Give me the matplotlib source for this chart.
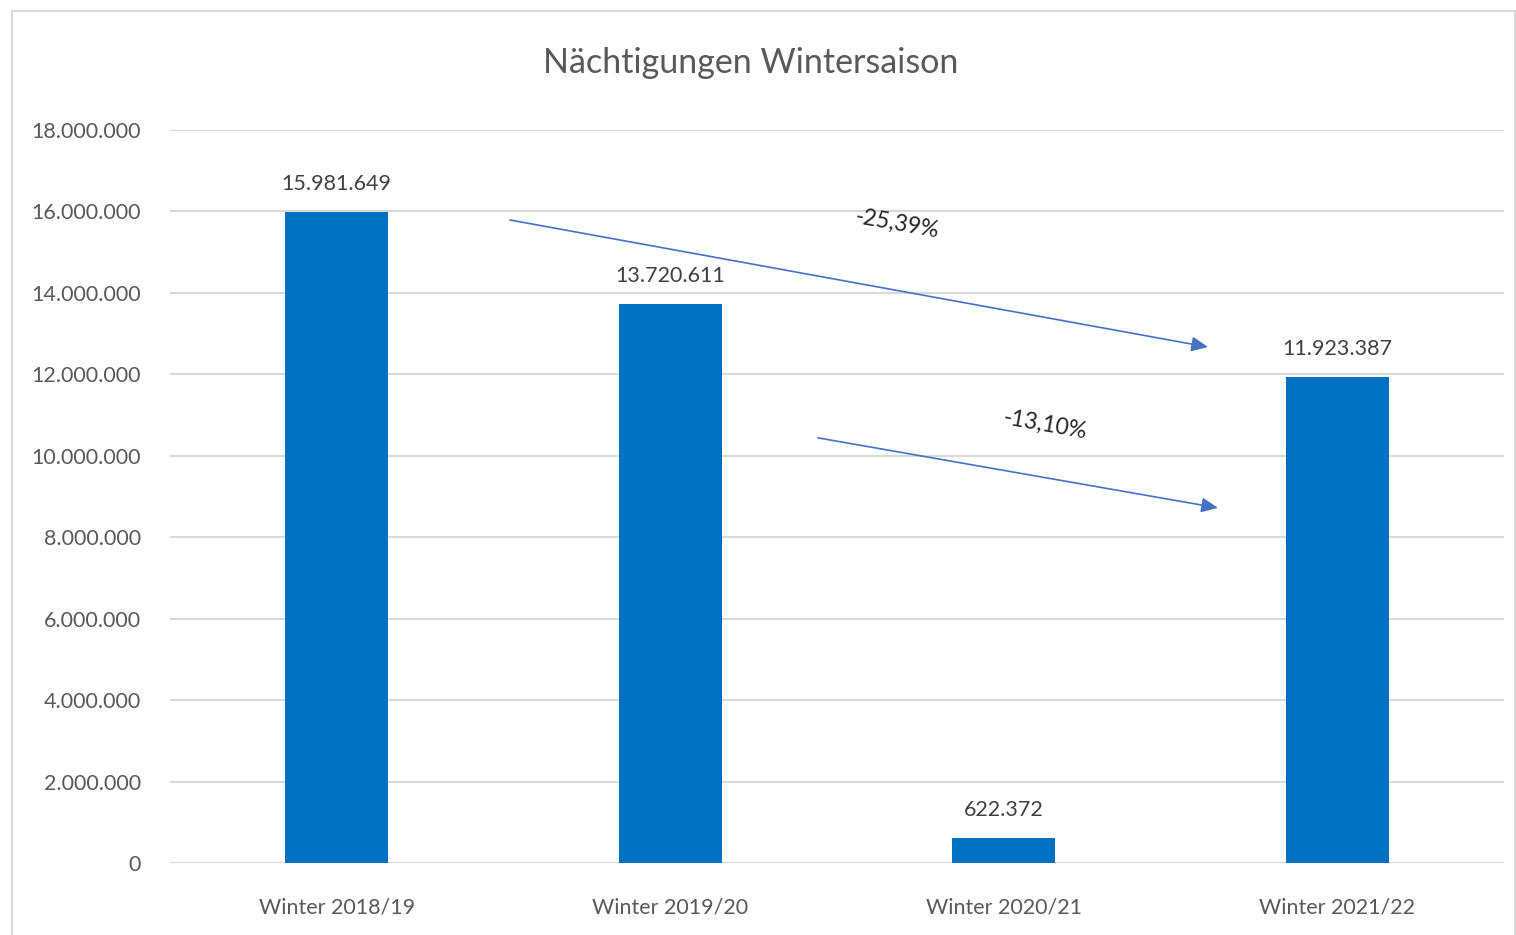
import matplotlib
matplotlib.use("Agg")
import matplotlib.pyplot as plt
from matplotlib.patches import Rectangle

categories = ["Winter 2018/19", "Winter 2019/20", "Winter 2020/21", "Winter 2021/22"]
values = [15981649, 13720611, 622372, 11923387]
yticks = [0, 2000000, 4000000, 6000000, 8000000, 10000000, 12000000, 14000000, 16000000, 18000000]
changes = ["-25,39%", "-13,10%"]

def de(n):
    return f"{n:,}".replace(",", ".")

plt.rcParams['font.family'] = ['Lato', 'DejaVu Sans']

W, H = 1516, 935
fig = plt.figure(figsize=(W / 100, H / 100), dpi=100)
fig.patch.set_facecolor("white")

# outer border
fig.add_artist(Rectangle((12 / W, -0.1), (W - 13) / W, 1.1 - 11 / H, transform=fig.transFigure,
                         fill=False, edgecolor="#d9d9d9", linewidth=1.5))

ax = fig.add_axes([170 / W, 1 - 863 / H, (1504 - 170) / W, (863 - 130) / H])
x = range(len(categories))
ax.bar(x, values, width=0.31, color="#0070C0", zorder=3)
ax.set_xlim(-0.5, 3.5)
ax.set_ylim(0, 18000000)
ax.set_yticks(yticks)
ax.set_yticklabels([de(v) for v in yticks])
ax.set_xticks(list(x))
ax.set_xticklabels(categories)
ax.yaxis.grid(True, color="#d9d9d9", linewidth=1.5, zorder=0)
ax.xaxis.grid(False)
for s in ax.spines.values():
    s.set_visible(False)
ax.tick_params(axis="both", length=0, labelsize=15.5, colors="#595959")
ax.tick_params(axis="y", pad=21)
ax.tick_params(axis="x", pad=25)

for i, v in enumerate(values):
    ax.annotate(de(v), (i, v), xytext=(0, 13), textcoords="offset points",
                ha="center", va="bottom", fontsize=15.5, color="#404040")

# arrows
ax.annotate("", xy=(2.6125, 12.67e6), xytext=(0.5195, 15.79e6),
            arrowprops=dict(arrowstyle="-|>,head_length=1.0,head_width=0.45", color="#4472C4", lw=1.2,
                            shrinkA=0, shrinkB=0), zorder=4)
ax.annotate("", xy=(2.6424, 8.72e6), xytext=(1.443, 10.44e6),
            arrowprops=dict(arrowstyle="-|>,head_length=1.0,head_width=0.45", color="#4472C4", lw=1.2,
                            shrinkA=0, shrinkB=0), zorder=4)

ax.text((897 - 170) / 333.5 - 0.5, (863 - 224) / 733 * 18e6, changes[0], rotation=-10,
        ha="center", va="center", fontsize=16.5, color="#262626", rotation_mode="anchor")
ax.text((1045 - 170) / 333.5 - 0.5, (863 - 425) / 733 * 18e6, changes[1], rotation=-10,
        ha="center", va="center", fontsize=16.5, color="#262626", rotation_mode="anchor")

fig.text(751 / W, 1 - 63 / H, "Nächtigungen Wintersaison", ha="center", va="center",
         fontsize=24.5, color="#595959")

fig.savefig("out.png", dpi=100, facecolor="white")
